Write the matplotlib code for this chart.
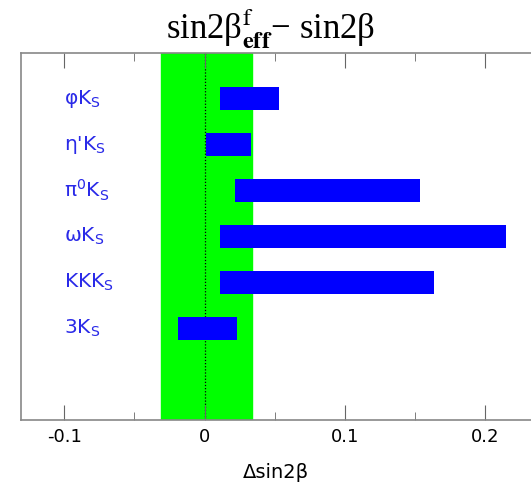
import matplotlib
matplotlib.use("Agg")
import matplotlib.pyplot as plt
from matplotlib.ticker import MultipleLocator

# penguin modes, sin2beta_eff - sin2beta ranges
modes = ["φK$_\\mathrm{S}$", "η'K$_\\mathrm{S}$", "π$^\\mathrm{0}$K$_\\mathrm{S}$",
         "ωK$_\\mathrm{S}$", "KKK$_\\mathrm{S}$", "3K$_\\mathrm{S}$"]
lo = [0.011, 0.001, 0.022, 0.011, 0.011, -0.019]
hi = [0.053, 0.033, 0.154, 0.215, 0.164, 0.023]
band = (-0.031, 0.034)
xticks = [-0.1, 0, 0.1, 0.2]
xticklabels = ["-0.1", "0", "0.1", "0.2"]

plt.rcParams["mathtext.fontset"] = "dejavusans"
fig = plt.figure(figsize=(5.31, 4.91), dpi=100)
ax = fig.add_axes([21/531, 71/491, 510/531, 367/491])

ax.axvspan(band[0], band[1], color="#00ff00", zorder=0)
ax.axvline(0, color="black", ls=(0, (1, 1.5)), lw=0.9, zorder=1)

ypos = list(range(1, len(modes) + 1))
ax.barh(ypos, [h - l for l, h in zip(lo, hi)], left=lo, height=0.5,
        color="#0000ff", zorder=2)
for y, m in zip(ypos, modes):
    ax.text(-0.1, y, m, color="#2a2ae8", fontsize=14.5, ha="left", va="center",
            family="DejaVu Sans")

ax.set_xlim(-0.131, 0.233)
ax.set_ylim(8, 0)
ax.xaxis.set_minor_locator(MultipleLocator(0.05))
ax.set_xticks(xticks)
ax.set_xticklabels(xticklabels, family="DejaVu Sans", fontsize=13)
ax.set_yticks([])
ax.tick_params(axis="x", which="major", direction="in", length=11, top=True,
               color="#666666", pad=6)
ax.tick_params(axis="x", which="minor", direction="in", length=6, top=True,
               color="#666666")
for s in ["left", "top", "bottom"]:
    ax.spines[s].set_color("#888888")
    ax.spines[s].set_linewidth(1.2)
ax.spines["right"].set_visible(False)

ax.set_xlabel("Δsin2β", family="DejaVu Sans", fontsize=14, labelpad=12)

fig.text(0.51, 1 - 38/491, "sin2β$^{\\mathrm{f}}_{\\mathbf{eff}}$− sin2β",
         ha="center", va="baseline", fontsize=25, family="Liberation Serif",
         math_fontfamily="stix")

fig.savefig("out.png", dpi=100)
